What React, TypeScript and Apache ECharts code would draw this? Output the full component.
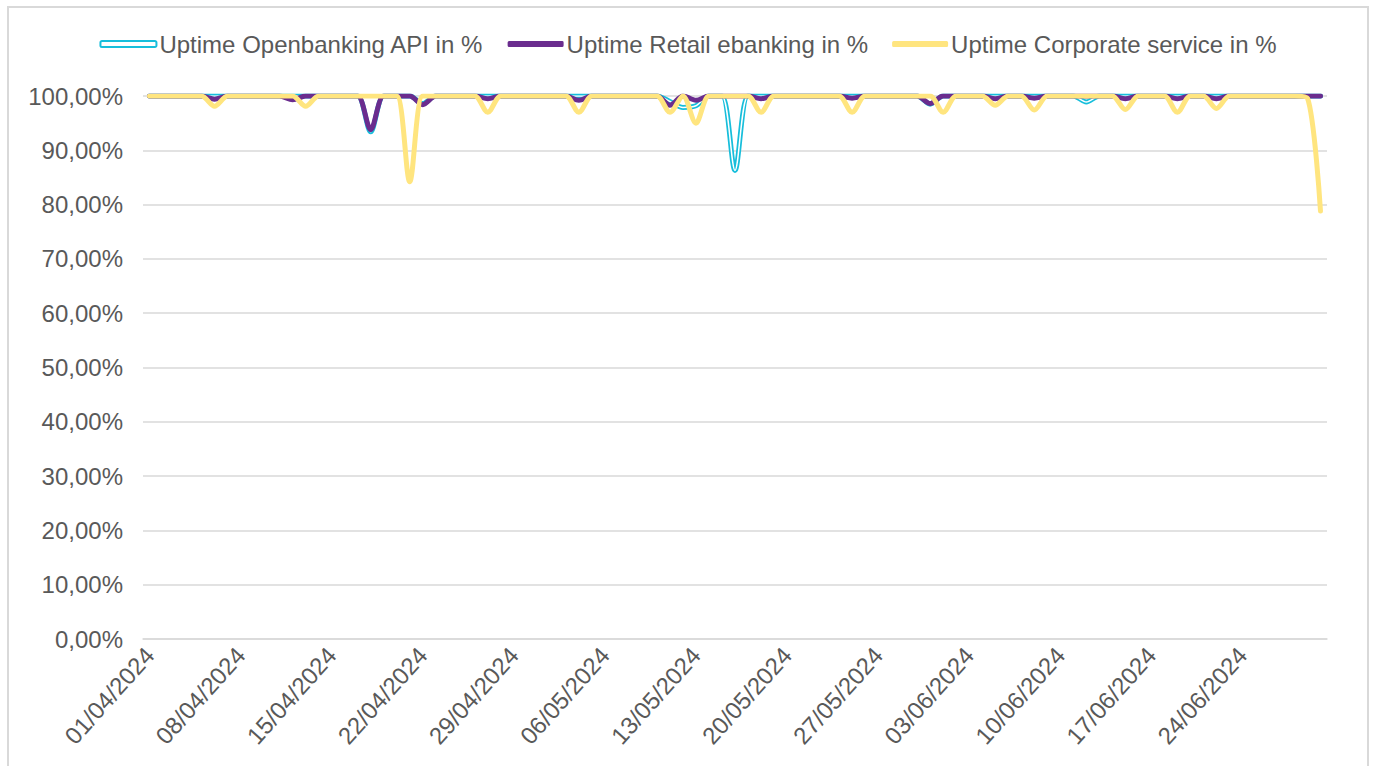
import React, { useEffect, useRef } from "react";
import * as echarts from "echarts";

// Categories: daily dates 01/04/2024 .. 30/06/2024
const startDate = new Date(2024, 3, 1);
const dayCount = 91;
const categories: string[] = [];
for (let i = 0; i < dayCount; i++) {
  const d = new Date(startDate.getFullYear(), startDate.getMonth(), startDate.getDate() + i);
  const dd = String(d.getDate()).padStart(2, "0");
  const mm = String(d.getMonth() + 1).padStart(2, "0");
  categories.push(`${dd}/${mm}/${d.getFullYear()}`);
}

const seriesNames = [
  "Uptime Openbanking API in %",
  "Uptime Retail ebanking in %",
  "Uptime Corporate service in %",
];

// Uptime Openbanking API in %
const openbanking: number[] = [
  100, 100, 100, 100, 100, 100, 100, 100, 100, 100,
  100, 100, 100, 100, 100, 100, 100, 93.4, 100, 100,
  100, 98.6, 100, 100, 100, 100, 100, 100, 100, 100,
  100, 100, 100, 100, 100, 100, 100, 100, 100, 100,
  99.0, 97.9, 98.2, 100, 100, 86.3, 100, 100, 100, 100,
  100, 100, 100, 100, 100, 100, 100, 100, 100, 100,
  98.5, 100, 100, 100, 100, 100, 100, 100, 100, 100,
  100, 100, 98.9, 100, 100, 100, 100, 100, 100, 100,
  100, 100, 100, 100, 100, 100, 100, 100, 100, 100,
  100,
];

// Uptime Retail ebanking in %
const retail: number[] = [
  100, 100, 100, 100, 100, 99.4, 100, 100, 100, 100,
  100, 99.3, 100, 100, 100, 100, 100, 93.8, 100, 100,
  100, 98.4, 100, 100, 100, 100, 99.5, 100, 100, 100,
  100, 100, 100, 99.2, 100, 100, 100, 100, 100, 100,
  98.3, 100, 99.2, 100, 100, 100, 100, 99.5, 100, 100,
  100, 100, 100, 100, 99.6, 100, 100, 100, 100, 100,
  98.6, 100, 100, 100, 100, 99.5, 100, 100, 99.6, 100,
  100, 100, 100, 100, 100, 99.5, 100, 100, 100, 99.5,
  100, 100, 99.5, 100, 100, 100, 100, 100, 100, 100,
  100,
];

// Uptime Corporate service in %
const corporate: number[] = [
  100, 100, 100, 100, 100, 98.1, 100, 100, 100, 100,
  100, 100, 98.1, 100, 100, 100, 100, 100, 100, 100,
  84.2, 100, 100, 100, 100, 100, 97.0, 100, 100, 100,
  100, 100, 100, 97.0, 100, 100, 100, 100, 100, 100,
  97.0, 100, 95.0, 100, 100, 100, 100, 97.0, 100, 100,
  100, 100, 100, 100, 97.0, 100, 100, 100, 100, 100,
  100, 97.0, 100, 100, 100, 98.3, 100, 100, 97.4, 100,
  100, 100, 100, 100, 100, 97.5, 100, 100, 100, 97.0,
  100, 100, 97.7, 100, 100, 100, 100, 100, 100, 99.6,
  78.8,
];

const CYAN = "#17BEDB";
const PURPLE = "#6A2C8E";
const YELLOW = "#FFE57F";
const TEXT = "#595959";
const GRID = "#D9D9D9";
const FONT = "'Liberation Sans', Arial, sans-serif";
const SMOOTH = 0.3;

export default function App() {
  const ref = useRef<HTMLDivElement>(null);

  useEffect(() => {
    if (!ref.current) return;
    const chart = echarts.init(ref.current, undefined, { renderer: "svg" });
    const lineBase = { cap: "round", join: "round" } as any;
    chart.setOption({
      animation: false,
      backgroundColor: "#ffffff",
      textStyle: { fontFamily: FONT },
      graphic: [
        {
          type: "rect",
          shape: { x: 8, y: 7, width: 1360, height: 800 },
          style: { fill: "none", stroke: GRID, lineWidth: 2 },
          silent: true,
        },
      ],
      legend: {
        top: 27,
        left: "center",
        itemWidth: 56,
        itemHeight: 6,
        itemGap: 24,
        icon: "roundRect",
        textStyle: { color: TEXT, fontSize: 24, fontFamily: FONT, padding: [0, 0, 0, -2] },
        data: [
          { name: seriesNames[0], itemStyle: { color: "#ffffff", borderColor: CYAN, borderWidth: 2 } },
          { name: seriesNames[1], itemStyle: { color: PURPLE } },
          { name: seriesNames[2], itemStyle: { color: YELLOW } },
        ],
      },
      grid: { left: 143, right: 49, top: 96, bottom: 127, containLabel: false },
      xAxis: {
        type: "category",
        data: categories,
        boundaryGap: true,
        axisLine: { lineStyle: { color: GRID, width: 1.5 } },
        axisTick: { interval: 6, length: 6, lineStyle: { color: GRID, width: 1.5 } },
        axisLabel: {
          interval: 6,
          rotate: 48,
          margin: 12,
          color: TEXT,
          fontSize: 24,
          fontFamily: FONT,
        },
        splitLine: { show: false },
      },
      yAxis: {
        type: "value",
        min: 0,
        max: 100,
        interval: 10,
        axisLine: { show: false },
        axisTick: { show: false },
        axisLabel: {
          margin: 20,
          color: TEXT,
          fontSize: 24,
          fontFamily: FONT,
          formatter: (v: number) => v.toFixed(2).replace(".", ",") + "%",
        },
        splitLine: { lineStyle: { color: GRID, width: 1.5 } },
      },
      series: [
        {
          name: seriesNames[0],
          type: "line",
          data: openbanking,
          smooth: SMOOTH,
          showSymbol: false,
          lineStyle: { ...lineBase, color: CYAN, width: 5 },
          itemStyle: { color: CYAN },
        },
        {
          name: "openbanking-inner",
          type: "line",
          data: openbanking,
          smooth: SMOOTH,
          showSymbol: false,
          lineStyle: { ...lineBase, color: "#ffffff", width: 1.5 },
          itemStyle: { color: "#ffffff" },
        },
        {
          name: seriesNames[1],
          type: "line",
          data: retail,
          smooth: SMOOTH,
          showSymbol: false,
          lineStyle: { ...lineBase, color: PURPLE, width: 5 },
          itemStyle: { color: PURPLE },
        },
        {
          name: seriesNames[2],
          type: "line",
          data: corporate,
          smooth: SMOOTH,
          showSymbol: false,
          lineStyle: { ...lineBase, color: YELLOW, width: 5 },
          itemStyle: { color: YELLOW },
        },
      ],
    });
    return () => chart.dispose();
  }, []);

  return (
    <div
      ref={ref}
      style={{ position: "absolute", left: 0, top: 0, width: 1376, height: 766 }}
    />
  );
}
